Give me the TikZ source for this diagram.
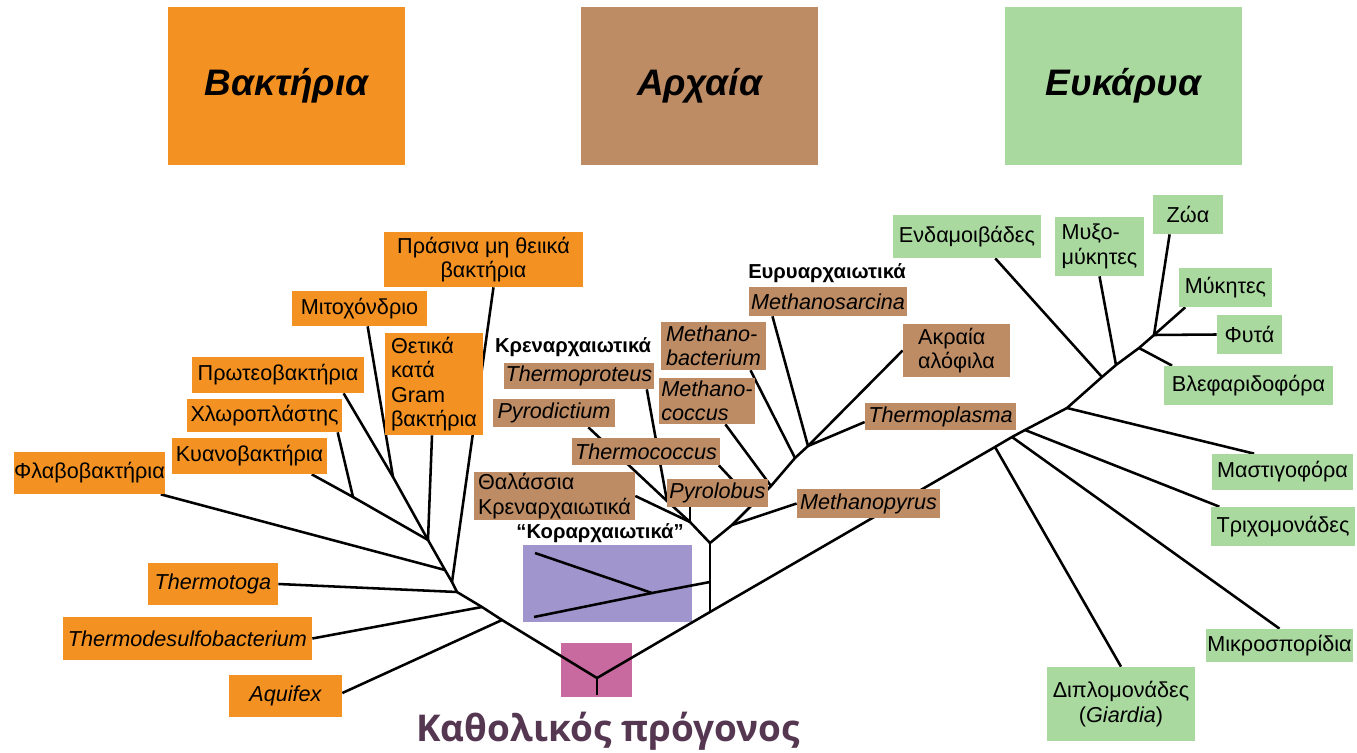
\documentclass[tikz,border=0pt]{standalone}
\usepackage{fontspec}
\setmainfont{Liberation Sans}
\newfontfamily\ancfont{Open Sans}
\usetikzlibrary{calc}
\pgfdeclarelayer{under}
\pgfdeclarelayer{edges}
\pgfsetlayers{under,edges,main}
\definecolor{bactcol}{RGB}{243,146,35}
\definecolor{archcol}{RGB}{189,140,100}
\definecolor{eukcol}{RGB}{170,217,160}
\definecolor{korcol}{RGB}{160,150,205}
\definecolor{ancbox}{RGB}{200,105,160}
\definecolor{anctext}{RGB}{85,55,82}

\begin{document}
\begin{tikzpicture}[
                x=0.02cm, y=-0.02cm,
                every node/.append style={inner sep=0pt, font=\fontsize{12.3}{13.8}\selectfont},
                sz/.style 2 args={minimum width=#1*0.02cm, minimum height=#2*0.02cm},
                title/.style={sz={237}{158}, font=\fontsize{21}{24}\selectfont\bfseries\itshape},
                bact/.style={fill=bactcol},
                arch/.style={fill=archcol},
                euk/.style={fill=eukcol},
                ital/.style={font=\fontsize{12.3}{13.8}\selectfont\itshape},
                grp/.style={font=\fontsize{11.5}{13}\selectfont\bfseries},
                tree/.style={line width=1.45pt, line join=round}
            ]
                \useasboundingbox (0,0) rectangle (1357,753);

                \node[title, fill=bactcol] (tb) at (286.5,86)  {Βακτήρια};
                \node[title, fill=archcol] (ta) at (699.5,86)  {Αρχαία};
                \node[title, fill=eukcol]  (te) at (1123.5,86) {Ευκάρυα};

                \node[bact, sz={199}{55}, align=center] (prs) at (483.5,259.5) {Πράσινα μη θειικά\\βακτήρια};
                \node[bact, sz={135}{35}]              (mit) at (359.5,308.5) {Μιτοχόνδριο};
                \node[bact, sz={98}{102}, align=left]  (grm) at (434,384)     {Θετικά\\κατά\\Gram\\βακτήρια};
                \node[bact, sz={172}{36}]              (prt) at (278,375)     {Πρωτεοβακτήρια};
                \node[bact, sz={155}{33}]              (chl) at (264.5,415.5) {Χλωροπλάστης};
                \node[bact, sz={155}{36}]              (cya) at (249.5,456)   {Κυανοβακτήρια};
                \node[bact, sz={151}{42}]              (flv) at (89.5,473)    {Φλαβοβακτήρια};
                \node[bact, ital, sz={130}{42}]        (tmt) at (213,584)     {Thermotoga};
                \node[bact, ital, sz={249}{43}]        (tds) at (187.5,638.5) {Thermodesulfobacterium};
                \node[bact, ital, sz={113}{42}]        (aqf) at (285.5,696)   {Aquifex};

                \node[grp]                             (eur) at (827,273)     {Ευρυαρχαιωτικά};
                \node[arch, ital, sz={158}{29}]        (msa) at (828,301.5)   {Methanosarcina};
                \node[arch, ital, sz={105}{48}, align=left] (mba) at (713.5,346) {Methano-\\bacterium};
                \node[arch, sz={107}{53}, align=left]  (hal) at (956.5,350.5) {Ακραία\\αλόφιλα};
                \node[grp]                             (cre) at (573,347)     {Κρεναρχαιωτικά};
                \node[arch, ital, sz={150}{26}]        (tpr) at (579,376)     {Thermoproteus};
                \node[arch, ital, sz={96}{46}, align=left] (mco) at (707,401) {Methano-\\coccus};
                \node[arch, ital, sz={122}{28}]        (pyd) at (554,413)     {Pyrodictium};
                \node[arch, ital, sz={151}{27}]        (tpl) at (940.5,416.5) {Thermoplasma};
                \node[arch, ital, sz={148}{27}]        (tco) at (646,451.5)   {Thermococcus};
                \node[arch, sz={161}{48}, align=left]  (mar) at (554.5,496)   {Θαλάσσια\\Κρεναρχαιωτικά};
                \node[arch, ital, sz={101}{28}]        (pyl) at (717.5,493)   {Pyrolobus};
                \node[arch, ital, sz={143}{29}]        (mpy) at (868.5,503.5) {Methanopyrus};
                \node[grp]                             (kor) at (600,533)     {“Κοραρχαιωτικά”};

                \node[euk, sz={148}{43}]               (end) at (967,236.5)   {Ενδαμοιβάδες};
                \node[euk, sz={89}{59}, align=left]    (myx) at (1099.5,246.5) {Μυξο-\\μύκητες};
                \node[euk, sz={70}{39}]                (zoa) at (1188,214.5)  {Ζώα};
                \node[euk, sz={93}{39}]                (myk) at (1225.5,287.5) {Μύκητες};
                \node[euk, sz={65}{39}]                (fyt) at (1249.5,334.5) {Φυτά};
                \node[euk, sz={169}{39}]               (vle) at (1248.5,385.5) {Βλεφαριδοφόρα};
                \node[euk, sz={141}{36}]               (mas) at (1282.5,472)  {Μαστιγοφόρα};
                \node[euk, sz={144}{39}]               (tri) at (1283,526.5)  {Τριχομονάδες};
                \node[euk, sz={147}{33}]               (mik) at (1279.5,645.5) {Μικροσπορίδια};
                \node[euk, sz={148}{74}, align=center] (dip) at (1121,704)    {Διπλομονάδες\\(\textit{Giardia})};

                \node[font=\ancfont\fontsize{21}{24}\selectfont\bfseries, text=anctext] (anc) at (608,731) {Καθολικός πρόγονος};

                \begin{pgfonlayer}{under}
                \node[fill=korcol, sz={169}{77}] (kbx) at (607.5,583.5) {};
                \node[fill=ancbox, sz={71}{54}]  (abx) at (596.5,670)   {};
                \end{pgfonlayer}

                \coordinate (r)   at (597,678);
                \coordinate (rb)  at (597,695);
                \coordinate (jaq) at (502,620);
                \coordinate (jtd) at (482,607);
                \coordinate (j0)  at (457,592);
                \coordinate (jpr) at (452,582);
                \coordinate (jfl) at (445,570);
                \coordinate (jpg) at (428,540);
                \coordinate (jmp) at (393,477);
                \coordinate (jcc) at (353,497);

                \coordinate (t1)  at (710,612);
                \coordinate (kk)  at (710,582);
                \coordinate (k)   at (710,543);
                \coordinate (kj)  at (652,593);
                \coordinate (ku)  at (535,553);
                \coordinate (kl)  at (534,617);
                \coordinate (jc)  at (690,522);
                \coordinate (jtp) at (667,501);
                \coordinate (ja)  at (732,525);
                \coordinate (jtc) at (754,503);
                \coordinate (jmc) at (771,486);
                \coordinate (jmb) at (795,458);
                \coordinate (jms) at (808,446);

                \coordinate (e1)  at (995,447);
                \coordinate (e2)  at (1012,437);
                \coordinate (e3)  at (1025,430);
                \coordinate (e4)  at (1067,408);
                \coordinate (e5)  at (1102,377);
                \coordinate (e6)  at (1116,365);
                \coordinate (e7)  at (1139,348);
                \coordinate (e8)  at (1154,335);

                \begin{pgfonlayer}{edges}
                \draw[tree] (r) -- (rb);
                \draw[tree] (r) -- (jaq) -- (jtd) -- (j0) -- (jpr) -- (jfl) -- (jpg) -- (jmp) -- ($(prt.south west)!0.88!(prt.south east)$);
                \draw[tree] (jpg) -- (jcc) -- ($(cya.south west)!0.9!(cya.south east)$);
                \draw[tree] (jcc) -- ($(chl.south west)!0.97!(chl.south east)$);
                \draw[tree] (jmp) -- ($(mit.south west)!0.56!(mit.south east)$);
                \draw[tree] (jpg) -- ($(grm.south west)!0.48!(grm.south east)$);
                \draw[tree] (jpr) -- ($(prs.south west)!0.55!(prs.south east)$);
                \draw[tree] (jfl) -- ($(flv.south west)!0.97!(flv.south east)$);
                \draw[tree] (j0) -- (tmt.east);
                \draw[tree] (jtd) -- (tds.east);
                \draw[tree] (jaq) -- ($(aqf.north east)!0.43!(aqf.south east)$);

                \draw[tree] (r) -- (t1) -- (e1) -- (e2) -- (e3) -- (e4) -- (e5) -- (e6) -- (e7) -- (e8) -- ($(myk.south west)!0.07!(myk.south east)$);

                \draw[tree] (t1) -- (k);
                \draw[tree] (kk) -- (kj) -- (ku);
                \draw[tree] (kj) -- (kl);
                \draw[tree] (k) -- (jc) -- (jtp) -- ($(pyd.south west)!0.78!(pyd.south east)$);
                \draw[tree] (jtp) -- ($(tpr.south west)!0.95!(tpr.south east)$);
                \draw[tree] (jc) -- (mar.east);
                \draw[tree] (jc) -- (jc |- pyl.south);
                \draw[tree] (k) -- (ja) -- (jtc) -- (jmc) -- (jmb) -- (jms) -- ($(msa.south west)!0.15!(msa.south east)$);
                \draw[tree] (ja) -- (mpy.west);
                \draw[tree] (jtc) -- ($(tco.south west)!0.99!(tco.south east)$);
                \draw[tree] (jmc) -- ($(mco.south west)!0.69!(mco.south east)$);
                \draw[tree] (jmb) -- ($(mba.south west)!0.85!(mba.south east)$);
                \draw[tree] (jms) -- (hal.west);
                \draw[tree] (jms) -- ($(tpl.north west)!0.7!(tpl.south west)$);

                \draw[tree] (e1) -- (dip.north);
                \draw[tree] (e2) -- (mik.north);
                \draw[tree] (e3) -- ($(tri.north west)!0.06!(tri.north east)$);
                \draw[tree] (e4) -- ($(mas.north west)!0.3!(mas.north east)$);
                \draw[tree] (e5) -- ($(end.south west)!0.69!(end.south east)$);
                \draw[tree] (e6) -- (myx.south);
                \draw[tree] (e7) -- ($(vle.north west)!0.05!(vle.north east)$);
                \draw[tree] (e8) -- (fyt.west);
                \draw[tree] (e8) -- ($(zoa.south west)!0.24!(zoa.south east)$);
                \end{pgfonlayer}
            \end{tikzpicture}
\end{document}
